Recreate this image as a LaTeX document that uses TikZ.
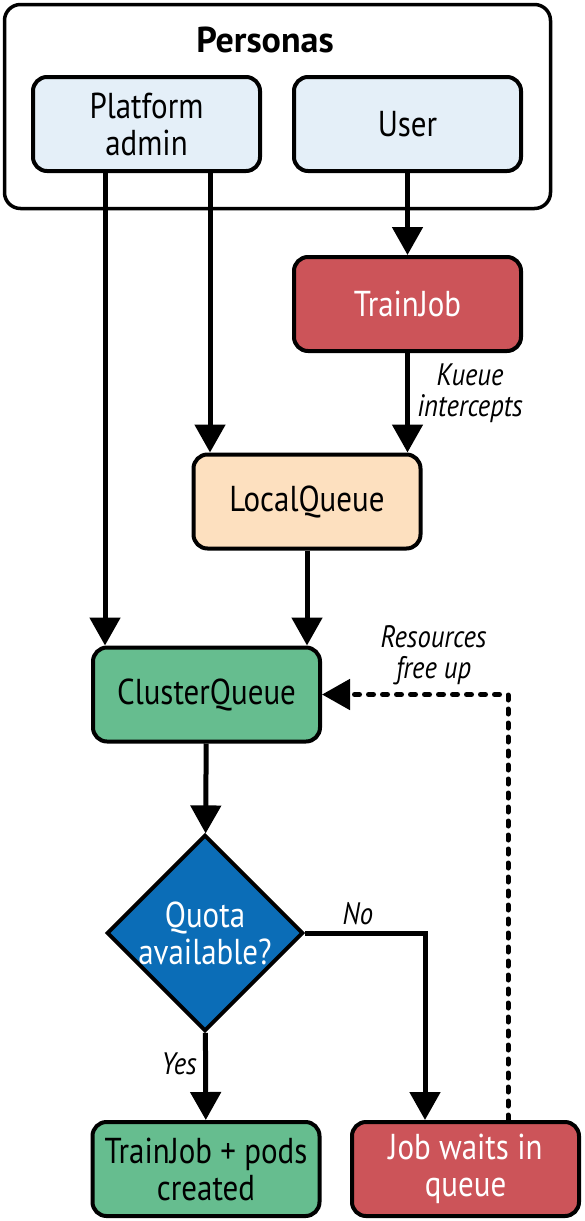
\documentclass[tikz,border=0pt]{standalone}
\usepackage{fontspec}
\setmainfont{PT Sans}
\newfontfamily\condfont{PT Sans}[FakeStretch=0.86]
\usepackage{tikz}
\usetikzlibrary{shapes.geometric,arrows.meta}

\definecolor{adminblue}{HTML}{E4EFF8}
\definecolor{jobred}{HTML}{CC5459}
\definecolor{queuepeach}{HTML}{FDE0BF}
\definecolor{queuegreen}{HTML}{66BD8F}
\definecolor{quotablue}{HTML}{0B6DB7}

\begin{document}
\begin{tikzpicture}[x=1pt,y=-1pt,
  box/.style={draw,line width=4pt,rounded corners=14pt,minimum width=227pt,minimum height=94pt,align=center,font=\condfont\fontsize{36}{37}\selectfont},
  flow/.style={line width=5pt,-{Triangle[length=28pt,width=30pt]}},
  lbl/.style={font=\condfont\fontsize{31}{31}\selectfont\itshape,align=center}]
  \useasboundingbox (0,0) rectangle (584,1221);
  % personas frame
  \node[draw,line width=3.5pt,rounded corners=16pt,minimum width=546pt,minimum height=204pt] (personas) at (277.5,106.5) {};
  \node[font=\fontsize{36}{40}\selectfont\bfseries] (ptitle) at (265,40) {Personas};
  \node[box,fill=adminblue] (admin) at (146.5,124) {Platform\\admin};
  \node[box,fill=adminblue] (user) at (407.5,124) {User};
  % queues and jobs
  \node[box,fill=jobred,text=white] (trainjob) at (407.5,304) {TrainJob};
  \node[box,fill=queuepeach] (localq) at (307,501.5) {LocalQueue};
  \node[box,fill=queuegreen] (clusterq) at (206.5,694.5) {ClusterQueue};
  \node[diamond,draw,line width=4pt,fill=quotablue,text=white,inner sep=0pt,minimum width=186pt,minimum height=186pt,align=center,font=\condfont\fontsize{36}{37}\selectfont] (quota) at (205,933) {Quota\\available?};
  \node[box,fill=queuegreen] (created) at (206,1169) {TrainJob + pods\\created};
  \node[box,fill=jobred,text=white] (waits) at (465.5,1169) {Job waits in\\queue};
  % connectors
  \draw[flow] ([xshift=-41.5pt]admin.south) -- ([xshift=-41.5pt]admin.south |- clusterq.north);
  \draw[flow] ([xshift=63.5pt]admin.south) -- ([xshift=63.5pt]admin.south |- localq.north);
  \draw[flow] (user) -- (trainjob);
  \draw[flow] (trainjob) -- (trainjob.south |- localq.north) node[lbl,midway,right=4pt,yshift=10pt] {Kueue\\intercepts};
  \draw[flow] (localq) -- (localq.south |- clusterq.north);
  \draw[flow] (clusterq) -- (quota);
  \draw[flow] (quota) -- (created) node[lbl,midway,left=3pt,yshift=13pt] {Yes};
  \draw[flow] (quota.east) -| ([xshift=-40.5pt]waits.north) node[lbl,pos=0.22,above=2pt] {No};
  \draw[flow,line cap=round,dash pattern=on 5pt off 9pt] ([xshift=42.5pt]waits.north) |- (clusterq.east) node[lbl,pos=0.7,above=4pt] {Resources\\free up};
\end{tikzpicture}
\end{document}
